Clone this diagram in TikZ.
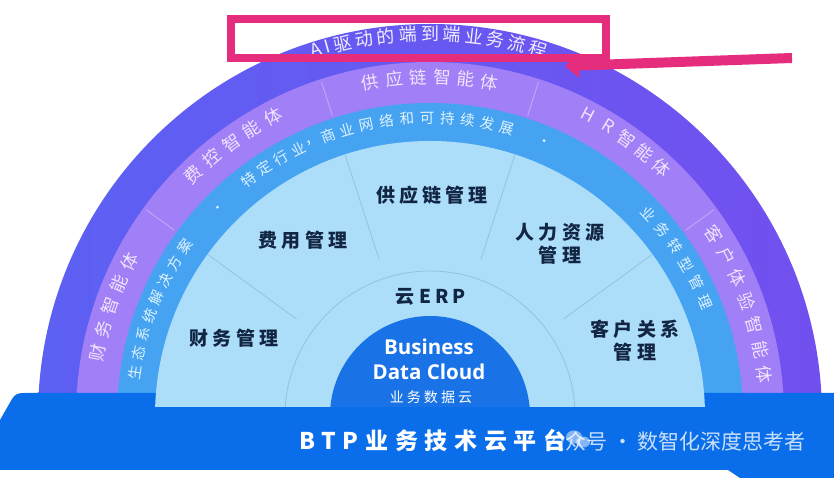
\documentclass[tikz,border=0pt]{standalone}
\usepackage{fontspec}
\setmainfont{Noto Sans CJK SC}
\newfontfamily\cjk{Noto Sans CJK SC}
\newfontfamily\latin{Open Sans}
\newfontfamily\sym{DejaVu Sans}
\usetikzlibrary{arrows.meta}

\definecolor{ringAl}{RGB}{92,96,243}
\definecolor{ringAr}{RGB}{114,80,240}
\definecolor{ringB}{RGB}{160,127,247}
\definecolor{ringC}{RGB}{70,163,242}
\definecolor{ringD}{RGB}{172,222,250}
\definecolor{dome}{RGB}{26,115,230}
\definecolor{barblue}{RGB}{10,110,235}
\definecolor{navy}{RGB}{18,38,68}
\definecolor{pinkmark}{RGB}{230,45,125}
\definecolor{txtA}{RGB}{242,236,255}
\definecolor{txtB}{RGB}{240,228,255}
\definecolor{txtC}{RGB}{222,243,255}
\definecolor{sepline}{RGB}{135,185,220}

\newcommand\arctext[6]{%
  \foreach \ch [count=\i from 0] in {#6} {
    \pgfmathsetmacro\ang{#3-\i*#4}
    \node[#5, rotate=\ang-90] (#1-\i) at (\ang:#2) {\ch};
  }%
}

\tikzset{
  arcA/.style={text=txtA, font=\cjk\fontsize{18}{18}\selectfont, inner sep=0pt},
  arcB/.style={text=txtB, font=\cjk\fontsize{17.5}{17.5}\selectfont, inner sep=0pt},
  arcC/.style={text=txtC, font=\cjk\fontsize{14.5}{14.5}\selectfont, inner sep=0pt},
  mgmt/.style={text=navy, font=\cjk\bfseries\fontsize{19}{23}\selectfont\addfontfeature{LetterSpace=22}, align=center, inner sep=0pt, xshift=2pt},
}

\begin{document}
\begin{tikzpicture}[x=1pt,y=1pt]
\useasboundingbox (0,0) rectangle (834,478);
\fill[white] (0,0) rectangle (834,478);

% outer rings
\begin{scope}[shift={(430,62)}]
  \shade[left color=ringAl, right color=ringAr] (392,0) arc[start angle=0,end angle=180,radius=392] -- cycle;
  \fill[ringB] (354,0) arc[start angle=0,end angle=180,radius=354] -- cycle;
  \fill[ringC] (313,0) arc[start angle=0,end angle=180,radius=313] -- cycle;
  \foreach \a in {36,72,108,144}
    \draw[white, opacity=.3, line width=1pt] (\a:316) -- (\a:351);
\end{scope}

% platform bar
\fill[barblue] (0,58) -- (12,79) .. controls (15,84) and (18,85) .. (25,85)
  -- (834,85) -- (834,0) -- (740,0) -- (728,8) -- (0,8) -- cycle;

% inner region, ERP arc and data cloud dome
\begin{scope}[shift={(430,62)}]
  \clip (-300,9) rectangle (300,300);
  \fill[ringD] (0,0) circle[radius=275];
  \foreach \a in {36,72,108,144}
    \draw[sepline, opacity=.75, line width=.8pt] (\a:165) -- (\a:275);
  \draw[sepline, opacity=.75, line width=.8pt] (0,0) circle[radius=145];
  \fill[dome] (0,0) circle[radius=100];
\end{scope}

% curved texts
\begin{scope}[shift={(430,62)}]
  \node[arcA, font=\sym\fontsize{7}{7}\selectfont, rotate=20.5] (ostar) at (110.7:383) {✦};
  \node[arcA, rotate=17.2] (oA) at (107.3:384) {A};
  \node[arcA, rotate=15.4] (oI) at (105.5:384) {I};
  \arctext{oa}{382}{103.2}{3.3}{arcA}{驱,动,的,端,到,端,业,务,流,程}

  \arctext{pa}{338}{169.2}{4.1}{arcB}{财,务,智,能,体}
  \arctext{pb}{338}{134.4}{4.2}{arcB}{费,控,智,能,体}
  \arctext{pc}{339}{100.15}{4.06}{arcB}{供,应,链,智,能,体}
  \arctext{pd}{340}{62.2}{3.8}{arcB}{H,R,智,能,体}
  \arctext{pe}{337}{32.7}{4.28}{arcB}{客,户,体,验,智,能,体}

  \arctext{ba}{298}{171.6}{3.74}{arcC}{生,态,系,统,解,决,方,案}
  \fill[txtC] (135.5:298) circle[radius=1.6];
  \arctext{bb}{298}{127.4}{3.7}{arcC}{特,定,行,业}
  \node[arcC, rotate=23.2] (bcomma) at (113.2:298) {，};
  \arctext{bc}{298}{110}{3.89}{arcC}{商,业,网,络,和,可,持,续,发,展}
  \fill[txtC] (67.5:298) circle[radius=1.6];
  \arctext{bd}{298}{42.7}{4.04}{arcC}{业,务,转,型,管,理}
\end{scope}

% module labels
\node[mgmt] (scm) at (430,283) {供应链管理};
\node[mgmt] (fee) at (301,238) {费用管理};
\node[mgmt] (fin) at (232,140) {财务管理};
\node[mgmt] (hr)  at (558,234) {人力资源\\管理};
\node[mgmt] (crm) at (633,137) {客户关系\\管理};
\node[mgmt] (erp) at (429,181) {云ERP};

\node[text=white, font=\latin\bfseries\fontsize{20.5}{25}\selectfont, align=center, inner sep=0pt] (bdc) at (429,118.5) {Business\\Data Cloud};
\node[text=white, font=\cjk\fontsize{14}{14}\selectfont\addfontfeature{LetterSpace=22}, inner sep=0pt] (bdccn) at (431,81) {业务数据云};

\node[text=white, font=\cjk\bfseries\fontsize{23}{23}\selectfont\addfontfeature{LetterSpace=29}, inner sep=0pt] (btp) at (433,37) {BTP业务技术云平台};

% watermark
\fill[white, opacity=.5] (574,41) ellipse[x radius=8, y radius=6.5];
\fill[white, opacity=.5] (583,36) ellipse[x radius=7, y radius=5.5];
\node[anchor=east, text=white, text opacity=.78, font=\cjk\fontsize{21}{21}\selectfont, inner sep=0pt] (wm) at (806,37) {公众号 · 数智化深度思考者};

% pink highlight annotation
\node[draw=pinkmark, line width=7.5pt, minimum width=375pt, minimum height=39pt, inner sep=0pt] (hl) at (418.5,439.5) {};
\coordinate (aS) at (792,420);
\coordinate (aE) at (565,412);
\draw[pinkmark, line width=10pt, -{Triangle[length=14pt,width=24pt]}] (aS) -- (aE);
\end{tikzpicture}
\end{document}
